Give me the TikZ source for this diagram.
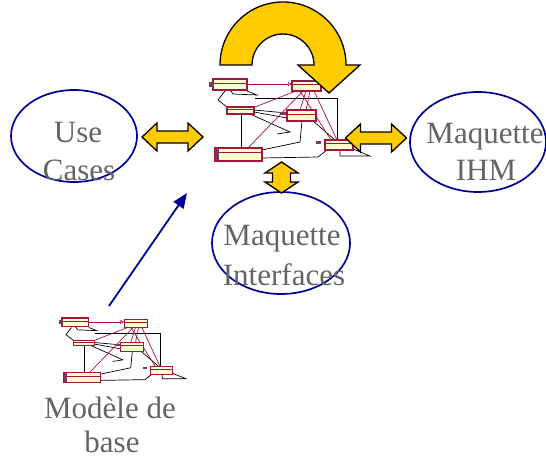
\documentclass[tikz,border=0pt]{standalone}
\usepackage{fontspec}
\setmainfont{Liberation Serif}
\usetikzlibrary{arrows.meta,shapes.geometric}
\definecolor{ellblue}{RGB}{0,0,153}
\definecolor{lbl}{RGB}{100,100,100}
\definecolor{arrowyellow}{RGB}{255,204,0}
\definecolor{umlred}{RGB}{165,20,65}
\definecolor{umlfill}{RGB}{255,255,204}
\definecolor{umlmark}{RGB}{115,60,95}
\tikzset{
  ellbox/.style={draw=ellblue, line width=1.7pt, ellipse, inner sep=0pt},
  lbltext/.style={text=lbl, font=\fontsize{31}{38}\selectfont, inner sep=0pt, anchor=base},
  blockarrow/.style={fill=arrowyellow, draw=black, line width=1.3pt, line join=miter},
  umlblack/.style={draw=black, line width=0.7pt},
  umlredline/.style={draw=umlred, line width=0.7pt},
  umlboxstyle/.style={draw=umlred, fill=umlfill, line width=1.1pt},
  bluearrow/.style={draw=ellblue, line width=1.8pt, -{Triangle[length=15pt,width=12pt]}}
}
\newcommand\umlbox[4]{%
  \draw[umlboxstyle] (#1,#2) rectangle (#3,#4);
  \draw[draw=umlred, line width=0.4pt] (#1,{#2+0.35*(#4-#2)}) -- (#3,{#2+0.35*(#4-#2)});
}
\newcommand\umlthumb{%
  % black connectors
  \draw[umlblack] (230,90)--(233,94)--(257,95)--(247,91);
  \draw[umlblack] (225,91)--(218,100)--(227,107);
  \draw[umlblack] (255,98)--(337,98)--(337,140);
  \draw[umlblack] (254,110)--(287,113);
  \draw[umlblack] (254,112)--(287,118);
  \draw[umlblack] (241,114)--(241,148);
  \draw[umlblack] (250,114)--(290,132)--(277,134);
  \draw[umlblack] (302,121)--(300,142)--(262,150);
  \draw[umlblack] (327,150)--(318,157)--(262,158);
  \draw[umlblack] (313,121)--(335,140);
  \draw[umlblack] (340,151)--(340,156)--(370,156)--(353,149);
  % red connectors
  \draw[umlredline,-{Triangle[open,length=4pt,width=4pt]}] (247,84)--(292,84);
  \draw[umlredline] (255,107)--(296,91);
  \draw[umlredline] (248,148)--(303,91);
  \draw[umlredline] (300,110)--(306,91);
  \draw[umlredline] (306,110)--(310,91);
  \draw[umlredline] (337,140)--(314,91);
  \draw[umlredline] (331,140)--(300,91);
  % classes
  \umlbox{213}{79}{247}{90}
  \umlbox{292}{81}{321}{91}
  \umlbox{227}{107}{254}{114}
  \umlbox{287}{110}{316}{121}
  \umlbox{215}{148}{262}{161}
  \umlbox{325}{140}{353}{150}
  \fill[umlmark] (209,82) rectangle (214,87);
  \fill[umlmark] (280,112) rectangle (286,115);
  \fill[umlmark] (215,149) rectangle (219,160);
  \fill[umlmark] (316,141) rectangle (321,144);
}
\begin{document}
\begin{tikzpicture}[x=1pt,y=-1pt]
\useasboundingbox (0,0) rectangle (546,460);
\fill[white] (0,0) rectangle (546,460);

% thumbnails of the class diagram
\umlthumb
\begin{scope}[shift={(62,318)}, scale=0.79, shift={(-213,-79)}]
  \umlthumb
\end{scope}

% ellipses
\node[ellbox, minimum width=126pt, minimum height=92pt] (usecases) at (74,136) {};
\node[ellbox, minimum width=136pt, minimum height=100pt] (ihm) at (478,142) {};
\node[ellbox, minimum width=138pt, minimum height=102pt] (interfaces) at (281,243) {};

% labels
\node[lbltext] (uc1) at (78,142) {Use};
\node[lbltext] (uc2) at (79,180) {Cases};
\node[lbltext] (ihm1) at (485,143) {Maquette};
\node[lbltext] (ihm2) at (486,180) {IHM};
\node[lbltext] (if1) at (282,245) {Maquette};
\node[lbltext] (if2) at (284,285) {Interfaces};
\node[lbltext] (mb1) at (110,418) {Modèle de};
\node[lbltext] (mb2) at (112,452) {base};

% blue arrow
\coordinate (basetop) at (109,306);
\coordinate (centermodel) at (187,193);
\draw[bluearrow] (basetop) -- (centermodel);

% yellow double arrows
\begin{scope}[shift={(172.5,137)}]
  \path[blockarrow] (-30.5,0)--(-15.5,-14)--(-15.5,-6)--(15.5,-6)--(15.5,-14)--(30.5,0)--(15.5,14)--(15.5,6)--(-15.5,6)--(-15.5,14)--cycle;
\end{scope}
\begin{scope}[shift={(376,138)}]
  \path[blockarrow] (-30.5,0)--(-15.5,-14)--(-15.5,-6)--(15.5,-6)--(15.5,-14)--(30.5,0)--(15.5,14)--(15.5,6)--(-15.5,6)--(-15.5,14)--cycle;
\end{scope}
\begin{scope}[shift={(281.5,177.5)}]
  \path[blockarrow] (0,-15.5)--(16.5,-4.5)--(9,-4.5)--(9,4.5)--(16.5,4.5)--(0,15.5)--(-16.5,4.5)--(-9,4.5)--(-9,-4.5)--(-16.5,-4.5)--cycle;
\end{scope}

% curved arrow
\path[blockarrow] (220,65) arc[start angle=180, end angle=360, radius=63]
  -- (360,65) -- (329,93) -- (298,65) -- (314,65)
  arc[start angle=360, end angle=180, radius=31] -- cycle;
\end{tikzpicture}
\end{document}
